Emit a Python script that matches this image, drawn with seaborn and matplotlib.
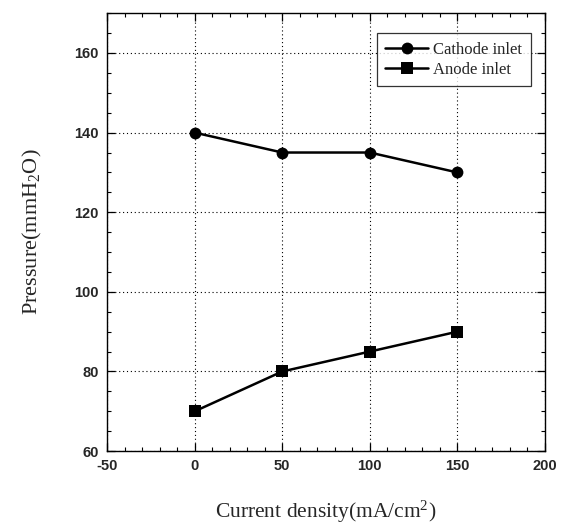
import matplotlib
matplotlib.use("Agg")
import matplotlib.pyplot as plt
from matplotlib.ticker import MultipleLocator
import seaborn as sns
import pandas as pd

current_density = [0, 50, 100, 150]
cathode_inlet = [140, 135, 135, 130]
anode_inlet = [70, 80, 85, 90]

sns.set_theme(style="ticks")
plt.rcParams["font.family"] = ["Liberation Sans", "DejaVu Sans"]
plt.rcParams["mathtext.fontset"] = "custom"
plt.rcParams["mathtext.rm"] = "Liberation Serif"
plt.rcParams["mathtext.it"] = "Liberation Serif:italic"
plt.rcParams["axes.unicode_minus"] = False

df = pd.DataFrame({
    "x": current_density * 2,
    "y": cathode_inlet + anode_inlet,
    "series": ["Cathode inlet"] * 4 + ["Anode inlet"] * 4,
})

fig = plt.figure(figsize=(5.64, 5.27), dpi=100)
ax = fig.add_axes([0.19, 0.144, 0.776, 0.831])

sns.lineplot(data=df, x="x", y="y", hue="series", style="series",
             markers={"Cathode inlet": "o", "Anode inlet": "s"}, dashes=False,
             palette={"Cathode inlet": "black", "Anode inlet": "black"},
             markersize=8.5, markeredgewidth=0, linewidth=1.8, ax=ax, legend=True)

ax.set_xlim(-50, 200)
ax.set_ylim(60, 170)
ax.xaxis.set_major_locator(MultipleLocator(50))
ax.xaxis.set_minor_locator(MultipleLocator(10))
ax.yaxis.set_minor_locator(MultipleLocator(5))
ax.set_yticks([60, 80, 100, 120, 140, 160])
ax.tick_params(which="both", direction="in", top=True, right=True, color="black")
ax.tick_params(which="major", length=6, width=0.9, labelsize=10.5, pad=6)
ax.tick_params(which="minor", length=3, width=0.8)
for lbl in ax.get_xticklabels() + ax.get_yticklabels():
    lbl.set_fontweight("bold")
for s in ax.spines.values():
    s.set_color("black")
    s.set_linewidth(1.0)

ax.grid(True, which="major", linestyle=(0, (1, 2.5)), color="black", linewidth=0.8)

ax.set_xlabel("Current density(mA/cm$^2$)", family="Liberation Serif",
              fontsize=15.5, labelpad=18)
ax.set_ylabel("Pressure(mmH$_2$O)", family="Liberation Serif",
              fontsize=16, labelpad=22)

handles, labels = ax.get_legend_handles_labels()
leg = ax.legend(handles, labels, loc="upper right", bbox_to_anchor=(0.968, 0.954),
                borderaxespad=0, frameon=True, fancybox=False, edgecolor="black",
                prop={"family": "Liberation Serif", "size": 12},
                handlelength=2.6, handletextpad=0.3, borderpad=0.5,
                labelspacing=0.25)
leg.get_frame().set_linewidth(0.9)

fig.savefig("out.png", dpi=100, facecolor="white")
